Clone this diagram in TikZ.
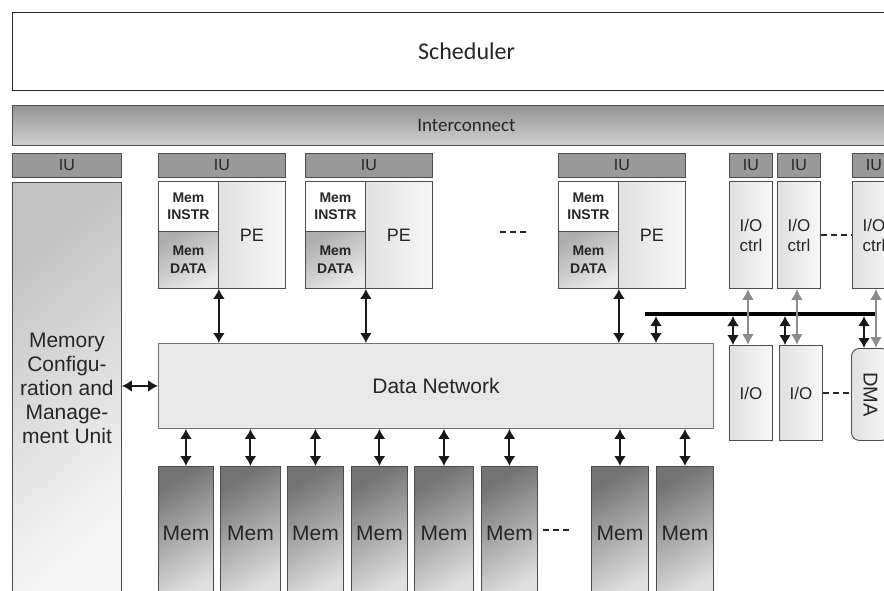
\documentclass[tikz,border=0pt]{standalone}
\usepackage{fontspec}
\setmainfont{Liberation Sans}
\newfontfamily\calibri{Carlito}
\usetikzlibrary{arrows.meta,
                calc, %for tap points on the bus
                positioning}

\begin{document}
\begin{tikzpicture}[x=1pt, y=-1pt,
                    box/.style={draw=black!70, line width=0.9pt, inner sep=0pt, align=center, text=black!85, anchor=north west},
                    iubox/.style={box, fill=black!40, minimum height=24pt, font=\fontsize{16}{18}\selectfont},
                    instrbox/.style={box, fill=white, minimum width=60pt, minimum height=50pt, font=\bfseries\fontsize{14}{17}\selectfont},
                    databox/.style={box, top color=black!32, bottom color=black!8, shading angle=30, minimum width=60pt, minimum height=57pt, font=\bfseries\fontsize{14}{18}\selectfont},
                    pebox/.style={box, left color=black!12, right color=black!3, minimum width=67pt, minimum height=107pt, font=\fontsize{18}{20}\selectfont},
                    ctrlbox/.style={box, left color=black!12, right color=black!3, minimum width=43pt, font=\fontsize{17}{20}\selectfont},
                    membox/.style={box, top color=black!55, bottom color=black!12, shading angle=30, minimum height=134pt, font=\fontsize{21}{24}\selectfont},
                    darr/.style={{Latex[length=10pt,width=12pt]}-{Latex[length=10pt,width=12pt]}, line width=2pt, black!90},
                    grayarr/.style={{Latex[length=11pt,width=12pt]}-{Latex[length=11pt,width=12pt]}, line width=2.8pt, black!45},
                    dots/.style={line width=2.4pt, dash pattern=on 6pt off 4pt, black!85}
                    ]
    \clip (0,0) rectangle (884,590);

    % SCHEDULER AND INTERCONNECT %
    \node[box, draw=black!85, line width=1.2pt, fill=white, minimum width=908pt, minimum height=78pt,
          font=\calibri\fontsize{24}{28}\selectfont] (sched) at (12,12) {Scheduler};
    \node[box, top color=black!42, bottom color=black!18, minimum width=908pt, minimum height=40pt,
          font=\calibri\fontsize{19}{22}\selectfont] (icon) at (12,105) {Interconnect};

    % MEMORY UNIT %
    \node[iubox, minimum width=109pt] (iu0) at (12,153) {IU};
    \node[box, top color=black!24, bottom color=black!3, shading angle=40, minimum width=109pt, minimum height=412pt,
          font=\fontsize{21}{24}\selectfont] (mcu) at (12,182) {Memory\\Configu-\\ration and\\Manage-\\ment Unit};

    % PROCESSING ELEMENTS %
    \foreach \i/\x in {1/158, 2/305, 3/558}{
        \node[iubox, minimum width=127pt] (iu\i) at (\x,153) {IU};
        \node[instrbox] (instr\i) at (\x,181) {Mem\\INSTR};
        \node[databox] (data\i) at (\x,231) {Mem\\DATA};
        \node[pebox] (pe\i) at (\x+60,181) {PE};
    }

    % I/O CONTROLLERS %
    \foreach \i/\x in {1/729, 2/777, 3/852}{
        \node[iubox, minimum width=43pt] (iuc\i) at (\x,153) {IU};
        \node[ctrlbox, minimum height=107pt] (ctrl\i) at (\x,181) {I/O\\ctrl};
    }
    \node[ctrlbox, minimum height=95pt] (io1) at (729,345) {I/O};
    \node[ctrlbox, minimum height=95pt] (io2) at (779,345) {I/O};
    \node[ctrlbox, rounded corners=8pt, minimum width=38pt, minimum height=92pt,
          font=\fontsize{20}{22}\selectfont] (dma) at (851,348) {\rotatebox{-90}{DMA}};

    % DATA NETWORK AND MEMORIES %
    \node[box, fill=black!9, draw=black!55, minimum width=555pt, minimum height=85pt,
          font=\fontsize{21}{24}\selectfont] (net) at (158,343) {Data Network};
    \foreach \i/\x/\w in {1/158/55, 2/220/60, 3/287/56, 4/351/56, 5/414/59, 6/481/56, 7/591/57, 8/656/57}
        \node[membox, minimum width=\w] (mem\i) at (\x,466) {Mem};

    % ARROWS %
    \draw[darr] (mcu.east |- net.west) -- (net.west);
    \foreach \i in {1,2,3}
        \draw[darr] (data\i.south east) -- (data\i.south east |- net.north);
    \foreach \i in {1,...,8}
        \draw[darr] (mem\i.north) -- (mem\i.north |- net.south);

    % I/O BUS %
    \coordinate (busL) at (645,314);
    \coordinate (busR) at (877,314);
    \draw[line width=4.5pt] (busL) -- (busR);
    \coordinate (tap0) at ($(busL)+(11,0)$);
    \draw[darr, shorten <=2pt] (tap0) -- (tap0 |- net.north);
    \foreach \i/\n/\s in {1/io1/4, 2/io2/6, 3/dma/13}{
        \coordinate (tap\i) at ($(\n.north west)+(\s,0)$);
        \draw[darr, shorten <=2pt] (tap\i |- busL) -- (tap\i);
    }
    \foreach \c/\n/\s in {ctrl1/io1/-3, ctrl2/io2/-2, ctrl3/dma/2}{
        \coordinate (g\c) at ($(\c.south)+(\s,0)$);
        \draw[grayarr] (g\c) -- (g\c |- \n.north);
    }

    % ELLIPSES %
    \draw[dots] (500,232) -- (527,232);
    \draw[dots] (ctrl2.east) -- (ctrl3.west);
    \draw[dots] (io2.east) -- (io2.east -| dma.west);
    \draw[dots] (543,530) -- (570,530);
\end{tikzpicture}
\end{document}
